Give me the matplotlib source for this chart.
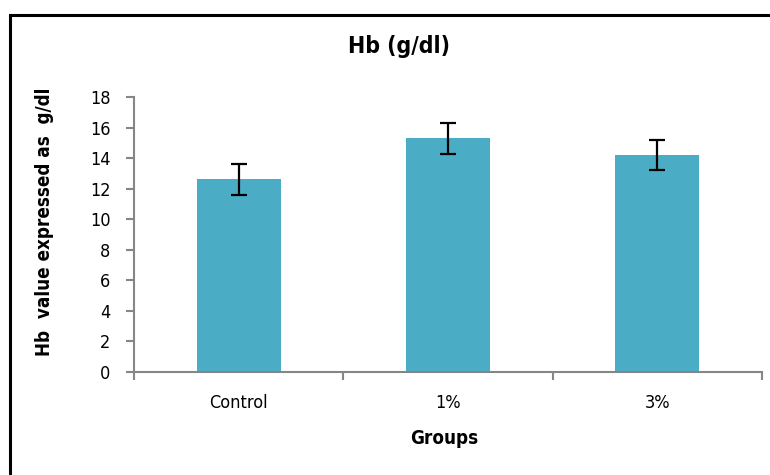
import matplotlib
matplotlib.use("Agg")
import matplotlib.pyplot as plt
from matplotlib.patches import Rectangle
import numpy as np

groups = ["Control", "1%", "3%"]
hb_mean = [12.6, 15.3, 14.2]
hb_err = [1.0, 1.0, 1.0]
y_ticks = [0, 2, 4, 6, 8, 10, 12, 14, 16, 18]

plt.rcParams['font.family'] = ['DejaVu Sans']
plt.rcParams['font.stretch'] = 'condensed'

W, H = 770, 475
fig = plt.figure(figsize=(W / 100, H / 100), dpi=100)
fig.patch.set_facecolor("white")

# outer chart border
fig.patches.append(Rectangle((10 / W, -0.05), 1.2, (H - 15) / H + 0.05,
                             transform=fig.transFigure, fill=False,
                             edgecolor="black", linewidth=2.2))

ax = fig.add_axes([134 / W, (H - 372) / H, (762 - 134) / W, (372 - 97) / H])
x = np.arange(len(groups))
ax.bar(x, hb_mean, width=0.4, color="#4BACC6", zorder=2)
ax.errorbar(x, hb_mean, yerr=hb_err, fmt="none", ecolor="black",
            elinewidth=1.6, capsize=5.5, capthick=1.6, zorder=3)

ax.set_xlim(-0.5, len(groups) - 0.5)
ax.set_ylim(0, 18)
ax.set_yticks(y_ticks)
ax.set_yticklabels([str(v) for v in y_ticks], fontsize=13, fontstretch='condensed')
ax.set_xticks(x)
ax.set_xticklabels(groups, fontsize=13, fontstretch='condensed')
ax.tick_params(axis="x", which="major", length=0, pad=16)
ax.set_xticks(np.arange(-0.5, len(groups)), minor=True)
ax.tick_params(axis="x", which="minor", length=6, width=1.5, color="#868686", direction="out")
ax.tick_params(axis="y", length=6, width=1.5, color="#868686", direction="out", pad=11)

for side in ["top", "right"]:
    ax.spines[side].set_visible(False)
for side in ["left", "bottom"]:
    ax.spines[side].set_color("#868686")
    ax.spines[side].set_linewidth(1.5)

ax.set_xlabel("Groups", fontsize=13.5, fontweight="bold", fontstretch='condensed')
ax.xaxis.set_label_coords((444 - 134) / (762 - 134), -(438 - 372) / (372 - 97))
ax.xaxis.label.set_va("center")
ax.set_ylabel("Hb  value expressed as  g/dl", fontsize=13.5, fontweight="bold",
              fontstretch='condensed')
ax.yaxis.set_label_coords(-(134 - 45) / (762 - 134), (372 - 222) / (372 - 97))
ax.yaxis.label.set_va("center")
fig.text(399 / W, (H - 47) / H, "Hb (g/dl)", ha="center", va="center",
         fontsize=16.5, fontweight="bold", fontstretch='condensed')

fig.savefig("out.png", dpi=100, facecolor="white")
